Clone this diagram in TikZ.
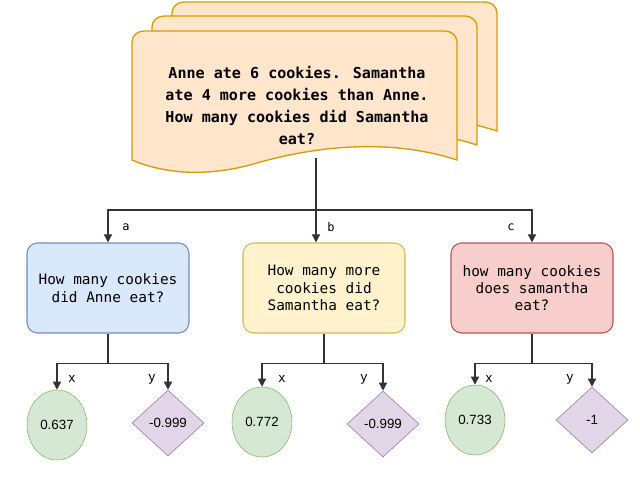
\documentclass[tikz,border=0pt]{standalone}
\usepackage{fontspec}
\setmainfont{Liberation Sans}
\newfontfamily\mono{DejaVu Sans Mono}
\usetikzlibrary{shapes.geometric,arrows.meta}
\definecolor{docf}{HTML}{FFE6CC}\definecolor{docd}{HTML}{D79B00}
\definecolor{bf}{HTML}{DAE8FC}\definecolor{bd}{HTML}{6C8EBF}
\definecolor{yf}{HTML}{FFF2CC}\definecolor{yd}{HTML}{D6B656}
\definecolor{rf}{HTML}{F8CECC}\definecolor{rd}{HTML}{B85450}
\definecolor{gf}{HTML}{D5E8D4}\definecolor{gd}{HTML}{82B366}
\definecolor{pf}{HTML}{E1D5E7}\definecolor{pd}{HTML}{9673A6}
\begin{document}
\begin{tikzpicture}[x=0.75pt,y=-0.75pt,
 sheet/.style={fill=docf,draw=docd,line width=1pt},
 box/.style={rounded corners=8pt,minimum width=162*0.75pt,minimum height=90*0.75pt,align=center,font=\mono\fontsize{10.8}{13}\selectfont,line width=0.8pt},
 circ/.style={ellipse,fill=gf,draw=gd,minimum width=60*0.75pt,minimum height=70*0.75pt,font=\fontsize{10}{12}\selectfont},
 dia/.style={diamond,fill=pf,draw=pd,minimum width=72*0.75pt,minimum height=66*0.75pt,inner sep=0pt,font=\fontsize{10}{12}\selectfont},
 con/.style={draw=black!80,line width=1pt},
 arr/.style={con,-{Triangle[length=6pt,width=6pt]}},
 lab/.style={font=\mono\fontsize{9}{11}\selectfont}]
\useasboundingbox (0,0) rectangle (640,483);
\foreach \dx/\dy in {40/-29,20/-15,0/0}{
\begin{scope}[shift={(\dx,\dy)}]
\draw[sheet] (132,160) -- (132,42) to[out=90,in=180] (144,31) -- (445,31) to[out=0,in=90] (457,42) -- (457,160)
 .. controls (380,135) and (300,150) .. (250,165) .. controls (200,178) and (160,172) .. (132,160) -- cycle;
\end{scope}}
\node[align=center,font=\mono\bfseries\fontsize{11.3}{16.5}\selectfont] (doc) at (297,105) {Anne ate 6 cookies. Samantha\\ate 4 more cookies than Anne.\\How many cookies did Samantha\\eat?};
\coordinate (dbot) at (316,158);
\node[box,fill=bf,draw=bd] (A) at (108,288) {How many cookies\\did Anne eat?};
\node[box,fill=yf,draw=yd] (B) at (324,288) {How many more\\cookies did\\Samantha eat?};
\node[box,fill=rf,draw=rd] (C) at (532,288) {how many cookies\\does samantha\\eat?};
\draw[arr] (dbot) -- (B.north -| dbot);
\draw[arr] (316,210) -| (A.north);
\draw[arr] (316,210) -| (C.north);
\node[lab] at (126,227) {a};
\node[lab] at (331,227) {b};
\node[lab] at (511,227) {c};
\node[circ] (a1) at (57,425) {0.637};
\node[dia] (a2) at (168,423) {-0.999};
\node[circ] (b1) at (262,422) {0.772};
\node[dia] (b2) at (383,424) {-0.999};
\node[circ] (c1) at (475,420) {0.733};
\node[dia] (c2) at (592,420) {-1};
\foreach \P/\L/\R in {A/a1/a2,B/b1/b2,C/c1/c2}{
 \draw[con] (\P.south) -- ++(0,30) coordinate (m\P);
 \draw[arr] (m\P) -| (\L.north);
 \draw[arr] (m\P) -| (\R.north);
}
\foreach \xx/\yy in {72/379,282/379,489/379}{\node[font=\fontsize{10}{12}\selectfont] at (\xx,\yy) {x};}
\foreach \xx/\yy in {152/379,364/379,570/379}{\node[font=\fontsize{10}{12}\selectfont] at (\xx,\yy) {y};}
\end{tikzpicture}
\end{document}
